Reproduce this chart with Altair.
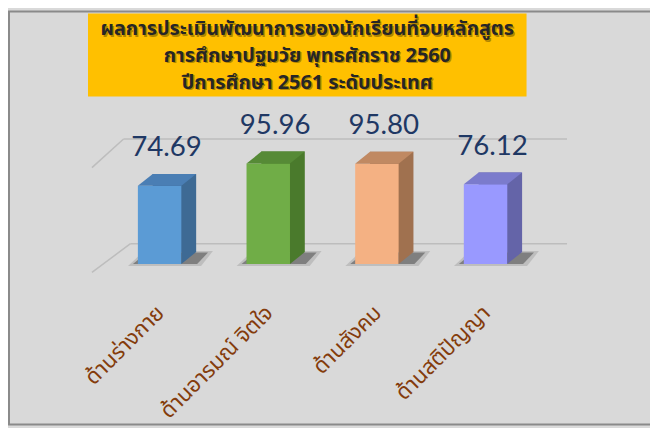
import altair as alt
import pandas as pd

# ---- data ----
categories = ["ด้านร่างกาย", "ด้านอารมณ์ จิตใจ", "ด้านสังคม", "ด้านสติปัญญา"]
values = [74.69, 95.96, 95.80, 76.12]
front_colors = ["#5b9bd5", "#70ad47", "#f4b183", "#9999ff"]
top_colors = ["#4a7eb4", "#568a36", "#c08962", "#7b7bcc"]
side_colors = ["#3e6a94", "#4a7a2c", "#a0714f", "#6464a8"]
title_lines = [
    "ผลการประเมินพัฒนาการของนักเรียนที่จบหลักสูตร",
    "การศึกษาปฐมวัย พุทธศักราช 2560",
    "ปีการศึกษา 2561 ระดับประเทศ",
]
grid_values = [0, 100]

W, H = 650, 420
THAI_FONT = "Noto Sans Thai, Noto Sans, sans-serif"

df = pd.DataFrame({"cat": categories, "val": values, "idx": list(range(len(categories)))})
tdf = pd.DataFrame({"line": title_lines, "n": list(range(len(title_lines)))})
gdf = pd.DataFrame({"v": grid_values})

xs = alt.Scale(domain=categories, range=[98.5, 538.5], paddingInner=0.6, paddingOuter=0.3)
ys = alt.Scale(domain=[0, 100], range=[256.5, 150.5])
X = alt.X("cat:N", scale=xs, axis=None, sort=categories)
Y = alt.Y("val:Q", scale=ys, axis=None)
Y0 = alt.YDatum(0, type="quantitative", scale=ys, axis=None)

def cscale(colors):
    return alt.Color("cat:N", scale=alt.Scale(domain=categories, range=colors), legend=None)

# frame
frame = alt.Chart(pd.DataFrame({"a": [0]})).mark_rect(
    fill="#d9d9d9", stroke="#8a8a8a", strokeWidth=2
).encode(x=alt.value(1), x2=alt.value(720), y=alt.value(1), y2=alt.value(H - 1))

# title box
tbox = alt.Chart(pd.DataFrame({"a": [0]})).mark_rect(fill="#ffc000").encode(
    x=alt.value(81), x2=alt.value(525), y=alt.value(3), y2=alt.value(87)
)
tys = alt.Scale(domain=[0, 2], range=[25, 79])
tshadow = alt.Chart(tdf).mark_text(
    font=THAI_FONT, fontSize=20, fontWeight="bold", color="#000000", opacity=0.3,
    baseline="alphabetic", dx=1.5, dy=1.5
).encode(x=alt.value(303), y=alt.Y("n:Q", scale=tys, axis=None), text="line:N")
ttext = alt.Chart(tdf).mark_text(
    font=THAI_FONT, fontSize=20, fontWeight="bold", color="#262626", baseline="alphabetic"
).encode(x=alt.value(303), y=alt.Y("n:Q", scale=tys, axis=None), text="line:N")

# gridlines (back wall + left wall)
gs = alt.Scale(domain=[0, 100], range=[256.5, 150.5])
grid_top = alt.Chart(gdf).transform_filter("datum.v == 100").mark_rule(
    color="#bdbdbd", strokeWidth=1.5, yOffset=-20.5, y2Offset=-20.5
).encode(y=alt.Y("v:Q", scale=gs, axis=None), x=alt.value(117), x2=alt.value(566))
grid_bot = alt.Chart(gdf).transform_filter("datum.v == 0").mark_rule(
    color="#bdbdbd", strokeWidth=1.5, yOffset=-20.5, y2Offset=-20.5
).encode(y=alt.Y("v:Q", scale=gs, axis=None), x=alt.value(124), x2=alt.value(566))
diag_top = alt.Chart(gdf).transform_filter("datum.v == 100").mark_rule(
    color="#bdbdbd", strokeWidth=1.5, yOffset=8.5, y2Offset=-20.5
).encode(y=alt.Y("v:Q", scale=gs, axis=None), y2="v:Q", x=alt.value(85), x2=alt.value(117))
diag_bot = alt.Chart(gdf).transform_filter("datum.v == 0").mark_rule(
    color="#bdbdbd", strokeWidth=1.5, yOffset=8.5, y2Offset=-20.5
).encode(y=alt.Y("v:Q", scale=gs, axis=None), y2="v:Q", x=alt.value(85), x2=alt.value(124))

# shadows
shadow_outer = alt.Chart(df).mark_point(
    shape="M -3.2 0.2 L -1.6 -1.3 L 5.4 -1.3 L 4.2 0.2 Z", size=400, filled=True,
    strokeWidth=0, color="#555555", opacity=0.2
).encode(x=X, y=Y0)
shadow_inner = alt.Chart(df).mark_point(
    shape="M -2.7 0 L -1.3 -1.15 L 4.9 -1.15 L 3.8 0 Z", size=400, filled=True,
    strokeWidth=0, color="#333333", opacity=0.45
).encode(x=X, y=Y0)

# 3D bars
back = alt.Chart(df).mark_bar(xOffset=15, x2Offset=15, yOffset=-12, y2Offset=-12).encode(
    x=X, y=Y, y2=alt.Y2Datum(0), color=cscale(side_colors)
)
front = alt.Chart(df).mark_bar().encode(x=X, y=Y, y2=alt.Y2Datum(0), color=cscale(front_colors))
topcap = alt.Chart(df).mark_point(
    shape="M -2.2 0 L 2.2 0 L 3.7 -1.2 L -0.7 -1.2 Z", size=400, filled=True,
    strokeWidth=0, opacity=1
).encode(x=X, y=Y, color=cscale(top_colors))
bottri = alt.Chart(df).mark_point(
    shape="M 2.2 -1.2 L 2.2 0 L 3.7 -1.2 Z", size=400, filled=True, strokeWidth=0, opacity=1
).encode(x=X, y=Y0, color=cscale(side_colors))

# value labels
vlabels = alt.Chart(df).mark_text(
    font="Lato", fontSize=28, color="#1f3864", baseline="alphabetic", dx=7, dy=-30
).encode(x=X, y=Y, text=alt.Text("val:Q", format=".2f"))

# category labels
clabels = alt.Chart(df).mark_text(
    font=THAI_FONT, fontSize=22, color="#843c0c", angle=315, align="right",
    baseline="middle", yOffset=46, xOffset=1
).encode(x=X, y=Y0, text="cat:N")

chart = alt.layer(
    frame, tbox, tshadow, ttext, grid_top, grid_bot, diag_top, diag_bot,
    shadow_outer, shadow_inner, back, front, topcap, bottri, vlabels, clabels
).resolve_scale(color="independent", y="independent").properties(
    width=W, height=H, padding=0, autosize=alt.AutoSizeParams(type="none")
).configure_view(stroke=None).configure(background="#d9d9d9")

chart.save("out.html", embed_options={"renderer": "svg", "actions": False})
